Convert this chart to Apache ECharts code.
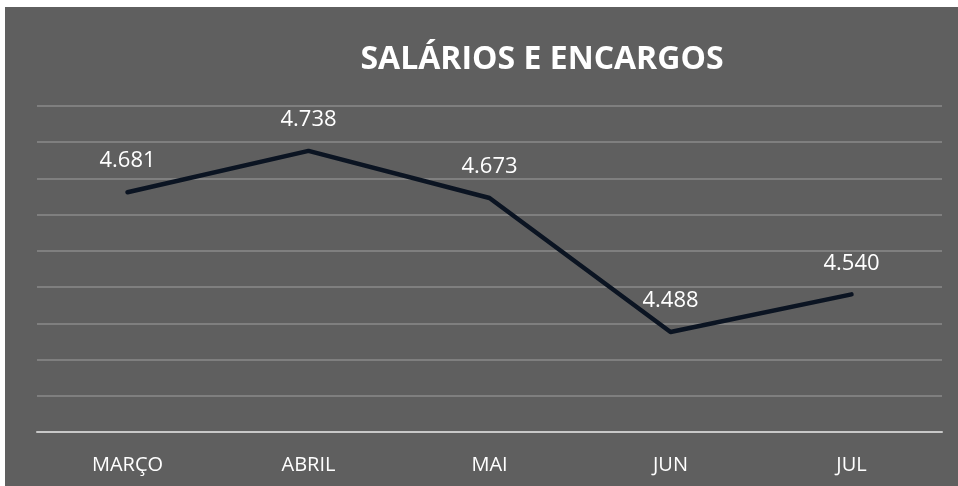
<!DOCTYPE html>
<html>
<head>
<meta charset="utf-8">
<script src="https://cdn.jsdelivr.net/npm/echarts@6/dist/echarts.min.js"></script>
<style>
html,body{margin:0;padding:0;background:#ffffff;width:958px;height:486px;overflow:hidden;}
#chart{position:absolute;left:5px;top:7px;width:953px;height:479px;background:#5f5f5f;}
</style>
</head>
<body>
<div id="chart"></div>
<script>
const titleText = 'SALÁRIOS E ENCARGOS';
const categories = ['MARÇO', 'ABRIL', 'MAI', 'JUN', 'JUL'];
const values = [4.681, 4.738, 4.673, 4.488, 4.540];
const yMin = 4.35, yMax = 4.80, yInterval = 0.05;

const chart = echarts.init(document.getElementById('chart'), null, {renderer: 'canvas'});
chart.setOption({
  backgroundColor: '#5f5f5f',
  animation: false,
  title: {
    text: titleText,
    left: 532,
    textAlign: 'center',
    top: 32,
    textStyle: {color: '#ffffff', fontFamily: 'Open Sans', fontWeight: 'bold', fontSize: 32}
  },
  grid: {left: 32, right: 16, top: 99, bottom: 54, containLabel: false},
  xAxis: {
    type: 'category',
    data: categories,
    boundaryGap: true,
    axisLine: {show: true, lineStyle: {color: '#c8c8c8', width: 2}},
    axisTick: {show: false},
    axisLabel: {color: '#ffffff', fontFamily: 'Open Sans', fontSize: 20, margin: 23}
  },
  yAxis: {
    type: 'value',
    min: yMin,
    max: yMax,
    interval: yInterval,
    axisLine: {show: false},
    axisTick: {show: false},
    axisLabel: {show: false},
    splitLine: {show: true, lineStyle: {color: '#8a8a8a', width: 1.5}}
  },
  series: [{
    type: 'line',
    data: values,
    showSymbol: true,
    symbol: 'circle',
    symbolSize: 2,
    itemStyle: {color: '#0b1422'},
    lineStyle: {color: '#0b1422', width: 4.5, join: 'round', cap: 'round'},
    label: {
      show: true,
      position: 'top',
      distance: 19,
      color: '#ffffff',
      fontFamily: 'Open Sans',
      fontSize: 22,
      formatter: p => p.value.toFixed(3)
    }
  }]
});
</script>
</body>
</html>
